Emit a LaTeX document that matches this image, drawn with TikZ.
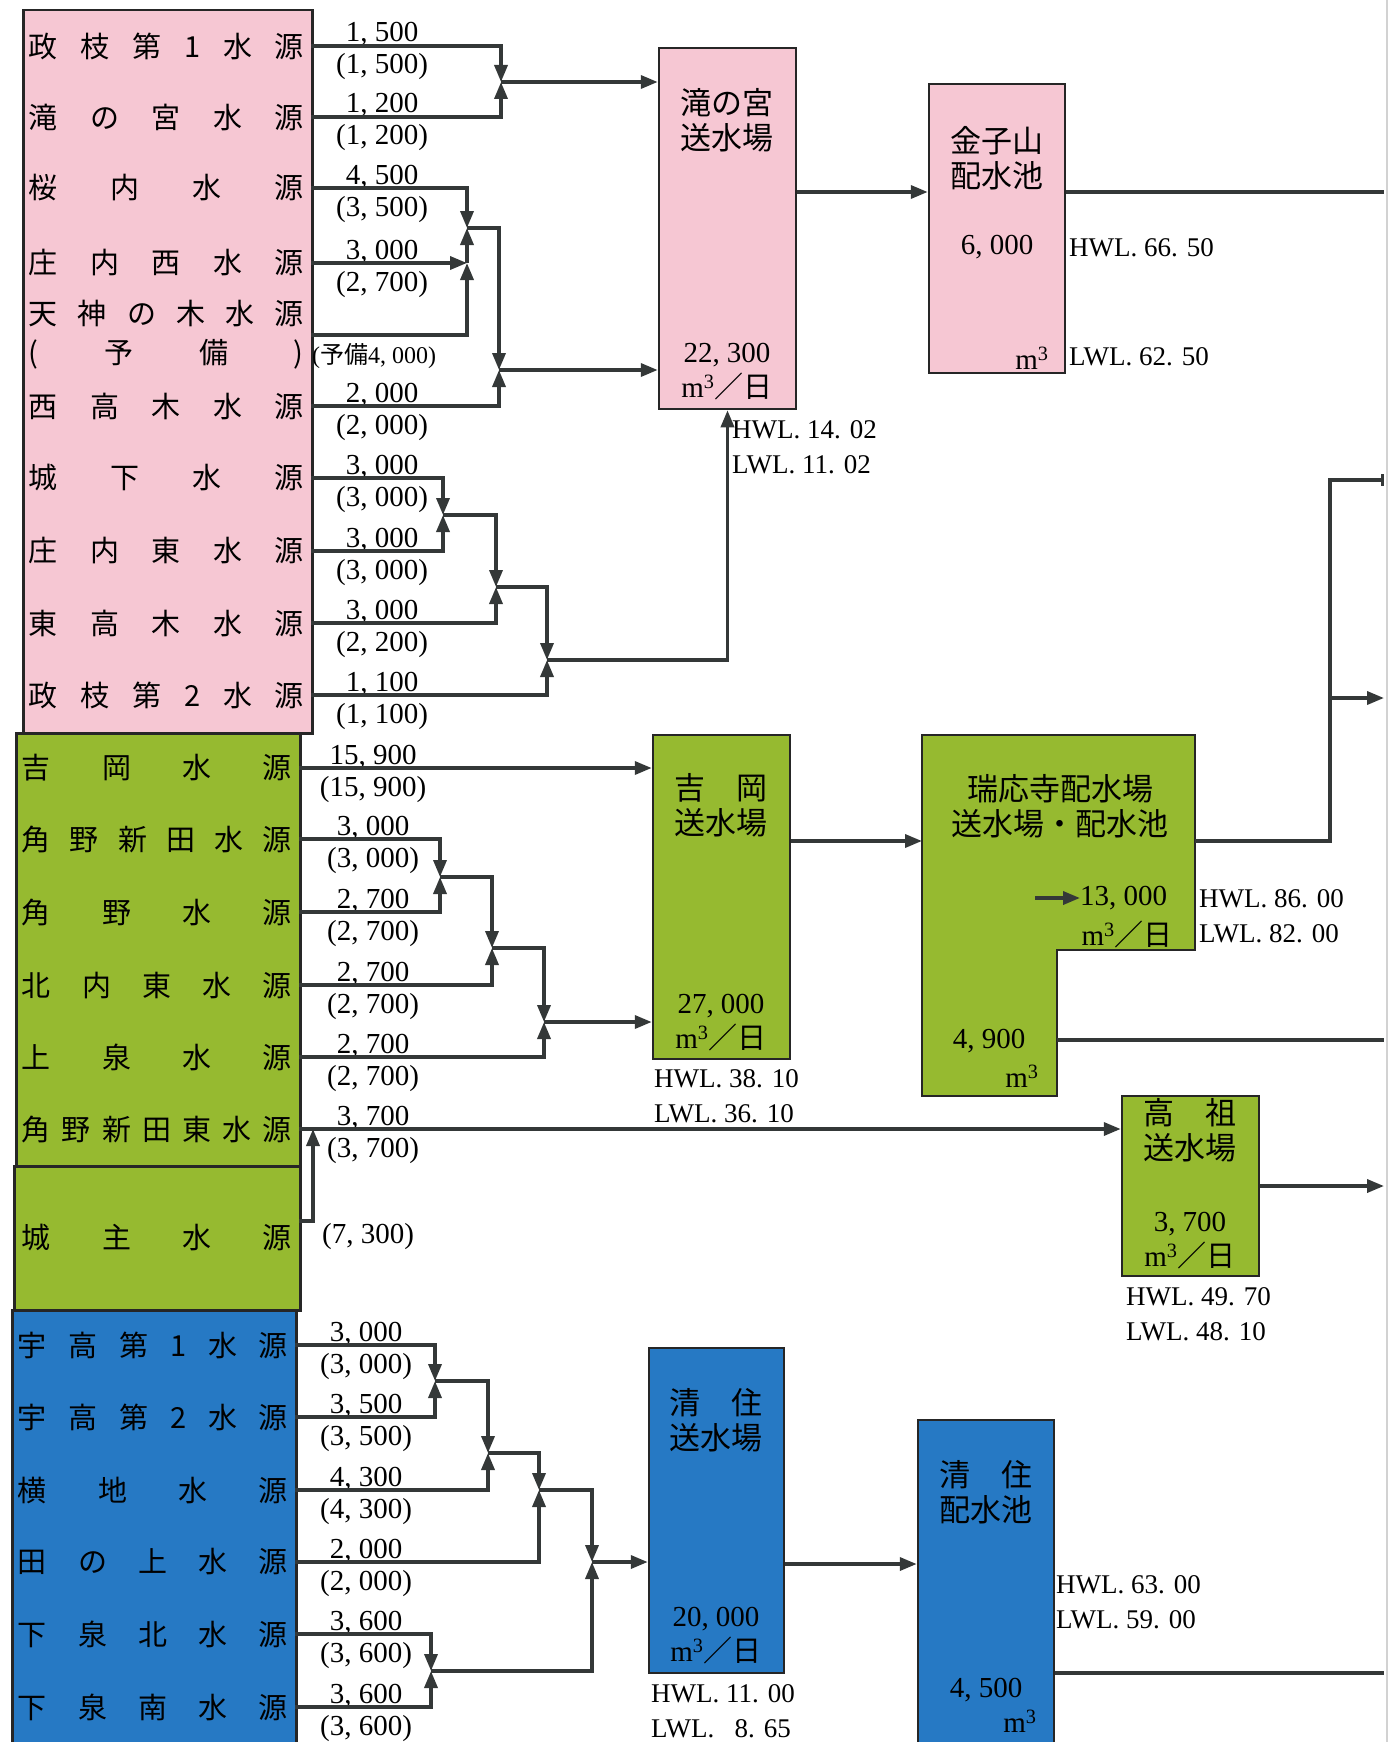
\documentclass[tikz,border=0pt]{standalone}
\usepackage{fontspec}
\setmainfont{Liberation Serif}
\newfontfamily\jp{Noto Sans CJK JP}
\usetikzlibrary{arrows.meta,calc}
\definecolor{pinkbg}{RGB}{246,199,211}
\definecolor{greenbg}{RGB}{150,186,48}
\definecolor{bluebg}{RGB}{38,121,196}
\definecolor{pipeink}{RGB}{52,56,56}
\definecolor{boxink}{RGB}{38,38,38}
\newcommand\rowtext[2]{\hbox to #1{#2}}
\newcommand\cbm{m\textsuperscript{3}}
\tikzset{
  >={Triangle[length=17pt,width=13pt]},
  pipe/.style={draw=pipeink,line width=3.5pt},
  srccol/.style={draw=boxink,line width=2.5pt,fill=#1,anchor=north west,inner sep=0pt},
  srcrow/.style={anchor=east,inner xsep=7pt,inner ysep=0pt,
    font=\jp\fontsize{29}{39}\selectfont,align=center},
  qty/.style={anchor=base,inner sep=0pt,font=\fontsize{29}{32}\selectfont},
  plant/.style={draw=boxink,line width=2.5pt,fill=#1,inner sep=0pt},
  boxtitle/.style={font=\jp\fontsize{31}{35}\selectfont,align=center,inner sep=0pt},
  boxnum/.style={font=\fontsize{29}{35}\selectfont,align=center,inner sep=0pt},
  lvl/.style={font=\fontsize{27}{35}\selectfont,anchor=west,align=left,inner sep=0pt},
}
\begin{document}
\begin{tikzpicture}[x=1pt,y=-1pt]
\useasboundingbox (0,0) rectangle (1397,1742);
% page edge of the scan
\draw[gray!35,line width=1.5pt] (1387,0) -- (1387,1742);

% source columns
\node[srccol=pinkbg,minimum width=289pt,minimum height=723pt] (pinkcol) at (22,9) {};
\node[srccol=greenbg,minimum width=284pt,minimum height=433pt] (greencol) at (15,732) {};
\node[srccol=greenbg,minimum width=286pt,minimum height=144pt] (joushu) at (13,1165) {};
\node[srccol=bluebg,minimum width=284pt,minimum height=445pt] (bluecol) at (11,1309) {};

\foreach \n/\y/\t/\a/\b in {
  s1/46/{政\hfill 枝\hfill 第\hfill 1\hfill 水\hfill 源}/{1, 500}/{(1, 500)},
  s2/117/{滝\hfill の\hfill 宮\hfill 水\hfill 源}/{1, 200}/{(1, 200)},
  s3/188/{桜\hfill 内\hfill 水\hfill 源}/{4, 500}/{(3, 500)},
  s4/263/{庄\hfill 内\hfill 西\hfill 水\hfill 源}/{3, 000}/{(2, 700)},
  s6/406/{西\hfill 高\hfill 木\hfill 水\hfill 源}/{2, 000}/{(2, 000)},
  s7/478/{城\hfill 下\hfill 水\hfill 源}/{3, 000}/{(3, 000)},
  s8/551/{庄\hfill 内\hfill 東\hfill 水\hfill 源}/{3, 000}/{(3, 000)},
  s9/623/{東\hfill 高\hfill 木\hfill 水\hfill 源}/{3, 000}/{(2, 200)},
  s10/695/{政\hfill 枝\hfill 第\hfill 2\hfill 水\hfill 源}/{1, 100}/{(1, 100)}}{
  \node[srcrow] (\n) at (311,\y) {\rowtext{275pt}{\t}};
  \node[qty] (\n-top) at (382,\y-4) {\a};
  \node[qty] (\n-bot) at (382,\y+28) {\b};
}
\node[srcrow] (s5) at (311,335) {\rowtext{275pt}{天\hfill 神\hfill の\hfill 木\hfill 水\hfill 源}\\
  \rowtext{275pt}{(\hfill 予\hfill 備\hfill )}};
\node[qty,anchor=west,font=\fontsize{24}{28}\selectfont] (s5-bot) at (312,356) {({\jp 予備}4, 000)};

\foreach \n/\y/\t/\a/\b in {
  s11/768/{吉\hfill 岡\hfill 水\hfill 源}/{15, 900}/{(15, 900)},
  s12/839/{角\hfill 野\hfill 新\hfill 田\hfill 水\hfill 源}/{3, 000}/{(3, 000)},
  s13/912/{角\hfill 野\hfill 水\hfill 源}/{2, 700}/{(2, 700)},
  s14/985/{北\hfill 内\hfill 東\hfill 水\hfill 源}/{2, 700}/{(2, 700)},
  s15/1057/{上\hfill 泉\hfill 水\hfill 源}/{2, 700}/{(2, 700)},
  s16/1129/{角\hfill 野\hfill 新\hfill 田\hfill 東\hfill 水\hfill 源}/{3, 700}/{(3, 700)}}{
  \node[srcrow] (\n) at (299,\y) {\rowtext{270pt}{\t}};
  \node[qty] (\n-top) at (373,\y-4) {\a};
  \node[qty] (\n-bot) at (373,\y+28) {\b};
}
\node[srcrow] (s17) at (299,1237) {\rowtext{270pt}{城\hfill 主\hfill 水\hfill 源}};
\node[qty,anchor=center] (s17-bot) at (368,1237) {(7, 300)};

\foreach \n/\y/\t/\a/\b in {
  s18/1345/{宇\hfill 高\hfill 第\hfill 1\hfill 水\hfill 源}/{3, 000}/{(3, 000)},
  s19/1417/{宇\hfill 高\hfill 第\hfill 2\hfill 水\hfill 源}/{3, 500}/{(3, 500)},
  s20/1490/{横\hfill 地\hfill 水\hfill 源}/{4, 300}/{(4, 300)},
  s21/1562/{田\hfill の\hfill 上\hfill 水\hfill 源}/{2, 000}/{(2, 000)},
  s22/1634/{下\hfill 泉\hfill 北\hfill 水\hfill 源}/{3, 600}/{(3, 600)},
  s23/1707/{下\hfill 泉\hfill 南\hfill 水\hfill 源}/{3, 600}/{(3, 600)}}{
  \node[srcrow] (\n) at (295,\y) {\rowtext{270pt}{\t}};
  \node[qty] (\n-top) at (366,\y-4) {\a};
  \node[qty] (\n-bot) at (366,\y+28) {\b};
}

% plants and reservoirs
\node[plant=pinkbg,minimum width=137pt,minimum height=361pt] (taki) at (727.5,228.5) {};
\node[plant=pinkbg,minimum width=136pt,minimum height=289pt] (kaneko) at (997,228.5) {};
\node[plant=greenbg,minimum width=137pt,minimum height=324pt] (yoshioka) at (721.5,897) {};
\node[plant=greenbg,minimum width=137pt,minimum height=180pt] (takaso) at (1190.5,1186) {};
\node[plant=bluebg,minimum width=135pt,minimum height=325pt] (kiyoP) at (716.5,1510.5) {};
\node[plant=bluebg,minimum width=136pt,minimum height=340pt] (kiyoR) at (986,1590) {};
\draw[draw=boxink,line width=2.5pt,fill=greenbg] (922,735) -- (1195,735) -- (1195,950)
  -- (1057,950) -- (1057,1096) -- (922,1096) -- cycle;
\coordinate (zuioIn) at (922,841);
\coordinate (zuioOut) at (1195,841);
\coordinate (zuioLow) at (1057,1040);

\node[boxtitle] (takiName) at (727,120) {滝の宮\\送水場};
\node[boxnum] (takiCap) at (727,372) {22, 300\\\cbm{\jp ／日}};
\node[lvl] (takiLvl) at (732,447) {HWL. 14. 02\\LWL. 11. 02};
\node[boxtitle] (kanekoName) at (997,158) {金子山\\配水池};
\node[boxnum] (kanekoVol) at (997,247) {6, 000};
\node[boxnum] (kanekoUnit) at (1032,358) {\cbm};
\node[lvl] (kanekoHWL) at (1069,248) {HWL. 66. 50};
\node[lvl] (kanekoLWL) at (1069,357) {LWL. 62. 50};
\node[boxtitle] (yoshiokaName) at (721,805) {吉　岡\\送水場};
\node[boxnum] (yoshiokaCap) at (721,1023) {27, 000\\\cbm{\jp ／日}};
\node[lvl] (yoshiokaLvl) at (654,1096) {HWL. 38. 10\\LWL. 36. 10};
\node[boxtitle] (zuioName) at (1060,806) {瑞応寺配水場\\送水場・配水池};
\node[boxnum,anchor=west] (zuioCap) at (1080,898) {13, 000};
\coordinate (zuioArr) at (1035,898);
\draw[pipe,->] (zuioArr) -- (zuioCap.west);
\node[boxnum,anchor=east] (zuioCapU) at (1173,934) {\cbm{\jp ／日}};
\node[boxnum] (zuioVol) at (989,1041) {4, 900};
\node[boxnum] (zuioUnit) at (1022,1076) {\cbm};
\node[lvl] (zuioLvl) at (1199,916) {HWL. 86. 00\\LWL. 82. 00};
\node[boxtitle] (takasoName) at (1190,1130) {高　祖\\送水場};
\node[boxnum] (takasoCap) at (1190,1241) {3, 700\\\cbm{\jp ／日}};
\node[lvl] (takasoLvl) at (1126,1314) {HWL. 49. 70\\LWL. 48. 10};
\node[boxtitle] (kiyoPName) at (716,1420) {清　住\\送水場};
\node[boxnum] (kiyoPCap) at (716,1636) {20, 000\\\cbm{\jp ／日}};
\node[lvl] (kiyoPLvl) at (651,1711) {HWL. 11. 00\\LWL. \phantom{1}8. 65};
\node[boxtitle] (kiyoRName) at (986,1492) {清　住\\配水池};
\node[boxnum] (kiyoRVol) at (986,1690) {4, 500};
\node[boxnum] (kiyoRUnit) at (1020,1721) {\cbm};
\node[lvl] (kiyoRLvl) at (1056,1602) {HWL. 63. 00\\LWL. 59. 00};

% pink group
\coordinate (jA) at (501,82);
\coordinate (jB1) at (467,263);
\coordinate (jB) at (467,228);
\coordinate (jC) at (499,370);
\coordinate (jD) at (443,515);
\coordinate (jE) at (496,587);
\coordinate (jF) at (547,660);
\draw[pipe,->] (s1.east) -| (jA);
\draw[pipe,->] (s2.east) -| (jA);
\draw[pipe,->] (jA) -- (taki.west |- jA);
\draw[pipe,->] (s3.east) -| (jB);
\draw[pipe,->] (s4.east) -- (jB1);
\draw[pipe,->] (s5.east) -| (jB1);
\draw[pipe,->] (jB1) -- (jB);
\draw[pipe,->] (jB) -| (jC);
\draw[pipe,->] (s6.east) -| (jC);
\draw[pipe,->] (jC) -- (taki.west |- jC);
\draw[pipe,->] (s7.east) -| (jD);
\draw[pipe,->] (s8.east) -| (jD);
\draw[pipe,->] (jD) -| (jE);
\draw[pipe,->] (s9.east) -| (jE);
\draw[pipe,->] (jE) -| (jF);
\draw[pipe,->] (s10.east) -| (jF);
\draw[pipe,->] (jF) -| (taki.south);

% green group
\coordinate (jG) at (440,877);
\coordinate (jH) at (492,948);
\coordinate (jI) at (544,1022);
\coordinate (jJ) at (313,1129);
\coordinate (jsOut) at (299,1221);
\draw[pipe,->] (s11.east) -- (yoshioka.west |- s11.east);
\draw[pipe,->] (s12.east) -| (jG);
\draw[pipe,->] (s13.east) -| (jG);
\draw[pipe,->] (jG) -| (jH);
\draw[pipe,->] (s14.east) -| (jH);
\draw[pipe,->] (jH) -| (jI);
\draw[pipe,->] (s15.east) -| (jI);
\draw[pipe,->] (jI) -- (yoshioka.west |- jI);
\draw[pipe,->] (s16.east) -- (takaso.west |- s16.east);
\draw[pipe,->] (jsOut) -| (jJ);

% blue group
\coordinate (jK) at (435,1381);
\coordinate (jL) at (488,1453);
\coordinate (jM) at (539,1490);
\coordinate (jN) at (431,1671);
\coordinate (jO) at (592,1562);
\draw[pipe,->] (s18.east) -| (jK);
\draw[pipe,->] (s19.east) -| (jK);
\draw[pipe,->] (jK) -| (jL);
\draw[pipe,->] (s20.east) -| (jL);
\draw[pipe,->] (jL) -| (jM);
\draw[pipe,->] (s21.east) -| (jM);
\draw[pipe,->] (jM) -| (jO);
\draw[pipe,->] (s22.east) -| (jN);
\draw[pipe,->] (s23.east) -| (jN);
\draw[pipe,->] (jN) -| (jO);
\draw[pipe,->] (jO) -- (kiyoP.west |- jO);

% plant to plant and outgoing mains
\coordinate (feedK) at (0,192);
\coordinate (feedR) at (0,1564);
\coordinate (riser) at (1330,480);
\coordinate (outK) at (1384,192);
\coordinate (outZ1) at (1384,480);
\coordinate (outZ2) at (1384,698);
\coordinate (outZ3) at (1384,1040);
\coordinate (outT) at (1384,1186);
\coordinate (outR) at (1384,1673);
\draw[pipe,->] (taki.east |- feedK) -- (kaneko.west |- feedK);
\draw[pipe] (kaneko.east |- outK) -- (outK);
\draw[pipe,->] (yoshioka.east |- zuioIn) -- (zuioIn);
\draw[pipe,-{Bar[width=12pt]}] (zuioOut) -| (riser) -- (outZ1);
\draw[pipe,->] (riser |- outZ2) -- (outZ2);
\draw[pipe] (zuioLow) -- (outZ3);
\draw[pipe,->] (takaso.east) -- (outT);
\draw[pipe,->] (kiyoP.east |- feedR) -- (kiyoR.west |- feedR);
\draw[pipe] (kiyoR.east |- outR) -- (outR);
\end{tikzpicture}
\end{document}
